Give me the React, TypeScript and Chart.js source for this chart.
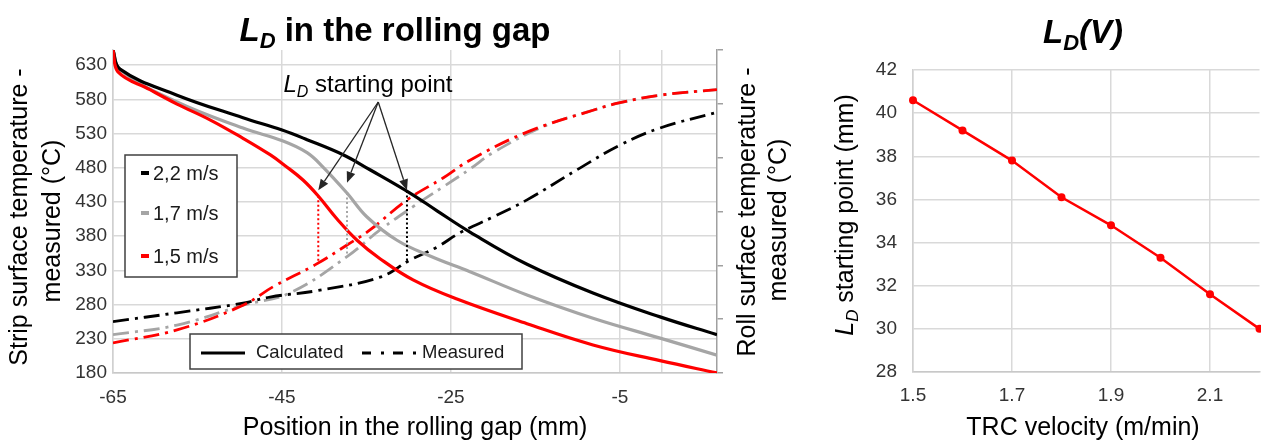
import React, { useEffect, useRef } from 'react';
import { Chart, registerables } from 'chart.js';

Chart.register(...registerables);

const FONT = "'Liberation Sans', Arial, Helvetica, sans-serif";
Chart.defaults.font.family = FONT;

// ---------- Left chart data: position in rolling gap (mm) vs temperature (°C)
const X_TICKS = [-65, -45, -25, -5, 0];
const Y_TICKS = [180, 230, 280, 330, 380, 430, 480, 530, 580, 630];
const Y2_TICKS = [0, 1, 2, 3, 4, 5, 6];

const SERIES_LABELS = ['2,2 m/s', '1,7 m/s', '1,5 m/s'];
const SERIES_COLORS = ['#000000', '#a5a5a5', '#ff0000'];

// Calculated (solid)
const CALC_22_X = [-65, -64.17, -57.42, -49.61, -44.99, -42.03, -37.77, -34.58, -29.84, -26.64, -22.74, -15.99, -8.18, -0.24, 6.5];
const CALC_22_Y = [652, 624, 586, 553, 535, 521, 499, 477, 443, 417, 386, 339, 297, 262, 236];

const CALC_17_X = [-65, -64.17, -57.42, -49.61, -44.87, -42.03, -40.14, -37.3, -34.93, -31.38, -27.47, -22.74, -15.99, -8.18, -0.24, 6.5];
const CALC_17_Y = [652, 623, 576, 538, 519, 502, 481, 443, 408, 374, 351, 328, 294, 260, 231, 206];

const CALC_15_X = [-65, -64.41, -60.62, -57.42, -53.52, -49.61, -46.41, -44.63, -42.51, -40.73, -38.48, -36.11, -33.39, -29.48, -24.28, -15.99, -8.18, -0.24, 6.5];
const CALC_15_Y = [652, 620, 594, 573, 550, 523, 499, 483, 462, 439, 405, 374, 347, 316, 288, 252, 221, 198, 180];

// Measured (dash-dot)
const MEAS_22_X = [-65, -57.42, -49.61, -46.41, -40.49, -33.39, -29.84, -26.64, -23.92, -20.01, -15.99, -10.07, -4.98, -0.24, 6.5];
const MEAS_22_Y = [255, 268, 282, 291, 301, 320, 345, 364, 385, 408, 433, 477, 513, 538, 561];

const MEAS_17_X = [-65, -57.42, -49.61, -44.05, -37.3, -33.39, -29.48, -25.93, -22.74, -20.01, -14.09, -8.18, -4.98, -0.24, 6.5];
const MEAS_17_Y = [236, 250, 279, 297, 350, 389, 423, 452, 478, 502, 540, 564, 575, 586, 594];

const MEAS_15_X = [-65, -57.42, -49.61, -46.06, -41.09, -37.3, -34.58, -30.19, -25.93, -22.74, -15.99, -8.18, -4.98, -0.24, 6.5];
const MEAS_15_Y = [224, 243, 279, 306, 338, 367, 389, 433, 465, 491, 532, 564, 575, 586, 594];

// L_D starting points (1,5 / 1,7 / 2,2 m/s)
const LD_X = [-40.7, -37.3, -30.2];
const LD_TOP = [439, 443, 446];
const LD_BOTTOM = [341, 350, 343];
const LD_COLORS = ['#ff0000', '#a5a5a5', '#000000'];
const ARROW_FROM = { x: -33.6, y: 576 };
const ARROW_TIP_Y = [447, 458, 447];

// ---------- Right chart data: L_D(V)
const VELOCITY = [1.5, 1.6, 1.7, 1.8, 1.9, 2.0, 2.1, 2.2];
const LD_START = [40.6, 39.2, 37.8, 36.1, 34.8, 33.3, 31.6, 30.0];
const VEL_TICKS = [1.5, 1.7, 1.9, 2.1];
const LD_TICKS = [28, 30, 32, 34, 36, 38, 40, 42];

const toPoints = (xs: number[], ys: number[]) => xs.map((x, i) => ({ x, y: ys[i] }));

type Part = { t: string; sub?: boolean; italic?: boolean; bold?: boolean };

function drawParts(
  ctx: CanvasRenderingContext2D,
  parts: Part[],
  x: number,
  y: number,
  size: number,
  align: 'left' | 'center',
  color: string
) {
  const fontFor = (p: Part) =>
    `${p.italic ? 'italic ' : ''}${p.bold ? 'bold ' : ''}${p.sub ? Math.round(size * 0.66) : size}px ${FONT}`;
  let total = 0;
  for (const p of parts) {
    ctx.font = fontFor(p);
    total += ctx.measureText(p.t).width;
  }
  let cx = align === 'center' ? x - total / 2 : x;
  ctx.fillStyle = color;
  ctx.textAlign = 'left';
  ctx.textBaseline = 'alphabetic';
  for (const p of parts) {
    ctx.font = fontFor(p);
    ctx.fillText(p.t, cx, p.sub ? y + size * 0.2 : y);
    cx += ctx.measureText(p.t).width;
  }
}

function drawRotated(
  ctx: CanvasRenderingContext2D,
  parts: Part[],
  x: number,
  y: number,
  size: number,
  color: string
) {
  ctx.save();
  ctx.translate(x, y);
  ctx.rotate(-Math.PI / 2);
  drawParts(ctx, parts, 0, 0, size, 'center', color);
  ctx.restore();
}

function drawArrow(ctx: CanvasRenderingContext2D, x0: number, y0: number, x1: number, y1: number) {
  const ang = Math.atan2(y1 - y0, x1 - x0);
  const len = 11;
  const hw = 4.5;
  const bx = x1 - len * Math.cos(ang);
  const by = y1 - len * Math.sin(ang);
  ctx.beginPath();
  ctx.moveTo(x0, y0);
  ctx.lineTo(bx, by);
  ctx.stroke();
  ctx.beginPath();
  ctx.moveTo(x1, y1);
  ctx.lineTo(bx + hw * Math.sin(ang), by - hw * Math.cos(ang));
  ctx.lineTo(bx - hw * Math.sin(ang), by + hw * Math.cos(ang));
  ctx.closePath();
  ctx.fill();
}

const leftDecor = {
  id: 'leftDecor',
  afterDatasetsDraw(chart: any) {
    const { ctx } = chart;
    const xs = chart.scales.x;
    const ys = chart.scales.y;
    ctx.save();
    ctx.lineWidth = 2;
    ctx.setLineDash([2, 2.5]);
    LD_X.forEach((v, i) => {
      const px = xs.getPixelForValue(v);
      ctx.strokeStyle = LD_COLORS[i];
      ctx.beginPath();
      ctx.moveTo(px, ys.getPixelForValue(LD_TOP[i]));
      ctx.lineTo(px, ys.getPixelForValue(LD_BOTTOM[i]));
      ctx.stroke();
    });
    ctx.setLineDash([]);
    ctx.strokeStyle = '#262626';
    ctx.fillStyle = '#262626';
    ctx.lineWidth = 1.3;
    const ox = xs.getPixelForValue(ARROW_FROM.x);
    const oy = ys.getPixelForValue(ARROW_FROM.y);
    LD_X.forEach((v, i) => {
      drawArrow(ctx, ox, oy, xs.getPixelForValue(v), ys.getPixelForValue(ARROW_TIP_Y[i]));
    });
    ctx.restore();
  },
  afterDraw(chart: any) {
    const { ctx } = chart;
    ctx.save();
    drawParts(
      ctx,
      [{ t: 'L', italic: true, bold: true }, { t: 'D', sub: true, italic: true, bold: true }, { t: ' in the rolling gap', bold: true }],
      395, 41, 33, 'center', '#000'
    );
    drawParts(ctx, [{ t: 'L', italic: true }, { t: 'D', sub: true, italic: true }, { t: ' starting point' }], 368, 92, 24, 'center', '#000');

    // Legend 1 (speeds)
    ctx.fillStyle = '#fff';
    ctx.fillRect(125, 155, 112, 122);
    ctx.strokeStyle = '#404040';
    ctx.lineWidth = 1.5;
    ctx.strokeRect(125, 155, 112, 122);
    const rows = [173, 213, 256];
    SERIES_LABELS.forEach((lab, i) => {
      ctx.fillStyle = SERIES_COLORS[i];
      ctx.fillRect(141, rows[i] - 2, 8, 4);
      ctx.fillStyle = '#1a1a1a';
      ctx.font = `20px ${FONT}`;
      ctx.textAlign = 'left';
      ctx.textBaseline = 'middle';
      ctx.fillText(lab, 153, rows[i] + 1);
    });

    // Legend 2 (line styles)
    ctx.fillStyle = '#fff';
    ctx.fillRect(190, 334, 332, 35);
    ctx.strokeStyle = '#404040';
    ctx.lineWidth = 1.5;
    ctx.strokeRect(190, 334, 332, 35);
    ctx.strokeStyle = '#000';
    ctx.lineWidth = 3;
    ctx.beginPath();
    ctx.moveTo(201, 353);
    ctx.lineTo(245, 353);
    ctx.stroke();
    ctx.beginPath();
    ctx.moveTo(362, 353); ctx.lineTo(371, 353);
    ctx.moveTo(381, 353); ctx.lineTo(384, 353);
    ctx.moveTo(393, 353); ctx.lineTo(403, 353);
    ctx.moveTo(413, 353); ctx.lineTo(416, 353);
    ctx.stroke();
    ctx.fillStyle = '#1a1a1a';
    ctx.font = `18.5px ${FONT}`;
    ctx.textBaseline = 'middle';
    ctx.textAlign = 'left';
    ctx.fillText('Calculated', 256, 353);
    ctx.fillText('Measured', 422, 353);

    // Axis titles
    drawRotated(ctx, [{ t: 'Strip surface temperature -' }], 27, 217, 25, '#000');
    drawRotated(ctx, [{ t: 'measured (°C)' }], 60, 221, 25, '#000');
    drawRotated(ctx, [{ t: 'Roll surface temperature -' }], 755, 212, 25, '#000');
    drawRotated(ctx, [{ t: 'measured (°C)' }], 786, 220, 25, '#000');
    drawParts(ctx, [{ t: 'Position in the rolling gap (mm)' }], 415, 435, 25, 'center', '#000');
    ctx.restore();
  },
};

const rightDecor = {
  id: 'rightDecor',
  afterDraw(chart: any) {
    const { ctx } = chart;
    ctx.save();
    drawParts(
      ctx,
      [{ t: 'L', italic: true, bold: true }, { t: 'D', sub: true, italic: true, bold: true }, { t: '(V)', italic: true, bold: true }],
      283, 43, 33, 'center', '#000'
    );
    drawRotated(ctx, [{ t: 'L', italic: true }, { t: 'D', sub: true, italic: true }, { t: ' starting point (mm)' }], 53, 215, 25, '#000');
    drawParts(ctx, [{ t: 'TRC velocity (m/min)' }], 283, 435, 25, 'center', '#000');
    ctx.restore();
  },
};

const GRID = '#d9d9d9';
const TICK_COLOR = '#333333';

export default function App() {
  const leftRef = useRef<HTMLCanvasElement>(null);
  const rightRef = useRef<HTMLCanvasElement>(null);

  useEffect(() => {
    const measuredDash = [16, 6, 3, 6];
    const mk = (label: string, data: any[], color: string, dashed: boolean, order: number) => ({
      label,
      data,
      borderColor: color,
      backgroundColor: color,
      borderWidth: dashed ? 2.8 : 3.2,
      borderDash: dashed ? measuredDash : [],
      pointRadius: 0,
      tension: 0.4,
      fill: false,
      order,
      yAxisID: 'y',
    });

    const left = new Chart(leftRef.current!, {
      type: 'line',
      data: {
        datasets: [
          mk('2,2 m/s calculated', toPoints(CALC_22_X, CALC_22_Y), SERIES_COLORS[0], false, 1),
          mk('1,7 m/s calculated', toPoints(CALC_17_X, CALC_17_Y), SERIES_COLORS[1], false, 2),
          mk('1,5 m/s calculated', toPoints(CALC_15_X, CALC_15_Y), SERIES_COLORS[2], false, 0),
          mk('2,2 m/s measured', toPoints(MEAS_22_X, MEAS_22_Y), SERIES_COLORS[0], true, 4),
          mk('1,7 m/s measured', toPoints(MEAS_17_X, MEAS_17_Y), SERIES_COLORS[1], true, 5),
          mk('1,5 m/s measured', toPoints(MEAS_15_X, MEAS_15_Y), SERIES_COLORS[2], true, 3),
        ] as any,
      },
      options: {
        responsive: false,
        animation: false,
        devicePixelRatio: 1,
        layout: { padding: { top: 50, left: 0, right: 0, bottom: 0 } },
        plugins: { legend: { display: false }, tooltip: { enabled: false } },
        scales: {
          x: {
            type: 'linear',
            min: -65,
            max: 6.5,
            afterBuildTicks: (s: any) => {
              s.ticks = X_TICKS.map((v) => ({ value: v }));
            },
            afterFit: (s: any) => {
              s.height = 68;
            },
            ticks: {
              autoSkip: false,
              maxRotation: 0,
              padding: 13,
              color: TICK_COLOR,
              font: { size: 19, family: FONT },
              callback: (v: any) => (v === 0 ? '' : String(v)),
            },
            grid: { color: GRID, lineWidth: 1.5, drawTicks: false },
            border: { color: '#c8c8c8', width: 1.5 },
          },
          y: {
            type: 'linear',
            position: 'left',
            min: 180,
            max: 652,
            afterBuildTicks: (s: any) => {
              s.ticks = Y_TICKS.map((v) => ({ value: v }));
            },
            afterFit: (s: any) => {
              s.width = 113;
            },
            ticks: {
              autoSkip: false,
              padding: 6,
              color: TICK_COLOR,
              font: { size: 19, family: FONT },
            },
            grid: { color: GRID, lineWidth: 1.5, drawTicks: false },
            border: { color: '#d0d0d0', width: 1.5 },
          },
          y2: {
            type: 'linear',
            position: 'right',
            min: 0,
            max: 6,
            afterBuildTicks: (s: any) => {
              s.ticks = Y2_TICKS.map((v) => ({ value: v }));
            },
            afterFit: (s: any) => {
              s.width = 83;
            },
            ticks: { callback: () => '', padding: 0 },
            grid: { drawOnChartArea: false, drawTicks: true, tickLength: 6, color: '#a0a0a0', lineWidth: 1.5 },
            border: { color: '#a0a0a0', width: 1.5 },
          },
        },
      } as any,
      plugins: [leftDecor],
    });

    const right = new Chart(rightRef.current!, {
      type: 'line',
      data: {
        datasets: [
          {
            label: 'LD starting point',
            data: toPoints(VELOCITY, LD_START),
            borderColor: '#ff0000',
            backgroundColor: '#ff0000',
            borderWidth: 2.5,
            pointRadius: 4,
            pointBorderWidth: 0,
            tension: 0,
            clip: false,
          },
        ] as any,
      },
      options: {
        responsive: false,
        animation: false,
        devicePixelRatio: 1,
        layout: { padding: { top: 70, left: 0, right: 20.5, bottom: 0 } },
        plugins: { legend: { display: false }, tooltip: { enabled: false } },
        scales: {
          x: {
            type: 'linear',
            min: 1.5,
            max: 2.2,
            afterBuildTicks: (s: any) => {
              s.ticks = VEL_TICKS.map((v) => ({ value: v }));
            },
            afterFit: (s: any) => {
              s.height = 69;
            },
            ticks: {
              autoSkip: false,
              maxRotation: 0,
              padding: 12,
              color: TICK_COLOR,
              font: { size: 19, family: FONT },
              callback: (v: any) => Number(v).toFixed(1),
            },
            grid: { color: GRID, lineWidth: 1.5, drawTicks: false },
            border: { color: '#c8c8c8', width: 1.5 },
          },
          y: {
            type: 'linear',
            min: 28,
            max: 42,
            afterBuildTicks: (s: any) => {
              s.ticks = LD_TICKS.map((v) => ({ value: v }));
            },
            afterFit: (s: any) => {
              s.width = 113;
            },
            ticks: {
              autoSkip: false,
              padding: 16,
              color: TICK_COLOR,
              font: { size: 19, family: FONT },
            },
            grid: { color: GRID, lineWidth: 1.5, drawTicks: false },
            border: { color: '#d0d0d0', width: 1.5 },
          },
        },
      } as any,
      plugins: [rightDecor],
    });

    return () => {
      left.destroy();
      right.destroy();
    };
  }, []);

  return (
    <div
      style={{
        position: 'fixed',
        left: 0,
        top: 0,
        width: 1261,
        height: 441,
        overflow: 'hidden',
        background: '#ffffff',
      }}
    >
      <div style={{ position: 'absolute', left: 0, top: 0, width: 800, height: 441 }}>
        <canvas ref={leftRef} width={800} height={441} style={{ display: 'block' }} />
      </div>
      <div style={{ position: 'absolute', left: 800, top: 0, width: 480, height: 441 }}>
        <canvas ref={rightRef} width={480} height={441} style={{ display: 'block' }} />
      </div>
    </div>
  );
}
